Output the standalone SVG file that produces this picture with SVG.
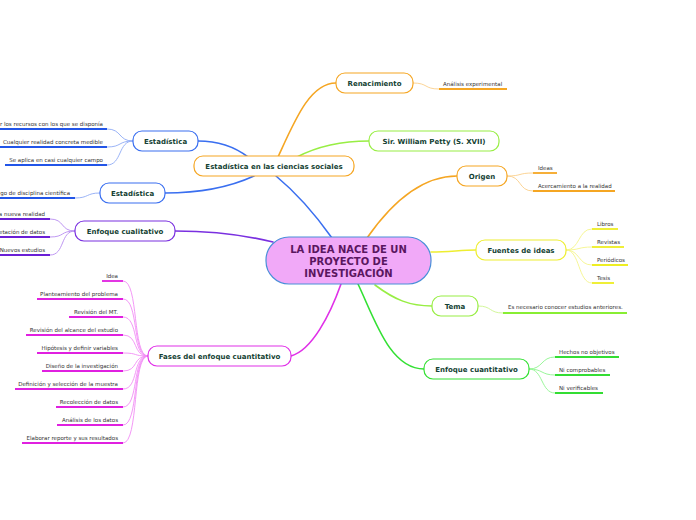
<svg xmlns="http://www.w3.org/2000/svg" width="696" height="520" viewBox="0 0 696 520">
<style>
.n{fill:#fff;stroke-width:1.2}
.nt{font-family:"DejaVu Sans",Verdana,sans-serif;font-weight:bold;font-size:7px;fill:#143f33;text-anchor:middle}
.lt{font-family:"DejaVu Sans",Verdana,sans-serif;font-size:5.5px;fill:#333}
.e{text-anchor:end}
.c{fill:none;stroke-width:1.6;stroke-linecap:round}
.lc{fill:none;stroke-width:0.9}
.ul{stroke-width:1.8}
</style>
<rect width="696" height="520" fill="#fff"/>
<g id="connectors">
<path class="c" stroke="#3a6ff0" d="M332 238 Q305 200 276 176"/>
<path class="c" stroke="#f5a623" d="M367 238 C390 205 420 176 457 176"/>
<path class="c" stroke="#eeee30" d="M431 252 C450 252 460 250 476 250"/>
<path class="c" stroke="#98ee44" d="M375 285 C395 300 410 306 432 306"/>
<path class="c" stroke="#33e033" d="M358 284 C375 320 390 369 424 369"/>
<path class="c" stroke="#e030e8" d="M341 284 C330 315 312 350 291 356"/>
<path class="c" stroke="#7a30e0" d="M273 242 C240 234 210 231 175 231"/>
<path class="c" stroke="#f5a623" d="M278 157 C295 120 310 83 336 83"/>
<path class="c" stroke="#98ee44" d="M297 157 C320 145 345 141 369 141"/>
<path class="c" stroke="#3a6ff0" d="M248 157 C235 147 220 141 198 141"/>
<path class="c" stroke="#3a6ff0" d="M254 176 C230 187 200 193 165 193"/>
<!-- leaf connectors -->
<g stroke="#8eaaf5" class="lc">
<path d="M133 141 C118 141 122 129 107 129"/>
<path d="M133 141 C118 141 122 147 107 147"/>
<path d="M133 141 C118 141 122 165 107 165"/>
<path d="M100 193 C86 193 89 198 75 198"/>
</g>
<g stroke="#b88cf0" class="lc">
<path d="M75 231 C60 231 65 219 50 219"/>
<path d="M75 231 C60 231 65 237 50 237"/>
<path d="M75 231 C60 231 65 255 50 255"/>
</g>
<g stroke="#f28cf5" class="lc">
<path d="M148 356 C132 356 139 281 123 281"/>
<path d="M148 356 C132 356 139 299 123 299"/>
<path d="M148 356 C132 356 139 317 123 317"/>
<path d="M148 356 C132 356 139 335 123 335"/>
<path d="M148 356 C132 356 139 353 123 353"/>
<path d="M148 356 C132 356 139 371 123 371"/>
<path d="M148 356 C132 356 139 389 123 389"/>
<path d="M148 356 C132 356 139 407 123 407"/>
<path d="M148 356 C132 356 139 425 123 425"/>
<path d="M148 356 C132 356 139 443 123 443"/>
</g>
<g stroke="#fbcf8a" class="lc">
<path d="M413 83 C428 83 424 89 439 89"/>
<path d="M507 176 C522 176 518 173 533 173"/>
<path d="M507 176 C522 176 518 191 533 191"/>
</g>
<g stroke="#f5f58a" class="lc">
<path d="M566 250 C580 250 578 229 592 229"/>
<path d="M566 250 C580 250 578 247 592 247"/>
<path d="M566 250 C580 250 578 265 592 265"/>
<path d="M566 250 C580 250 578 283 592 283"/>
</g>
<g stroke="#cdf58e" class="lc">
<path d="M478 306 C492 306 489 313 503 313"/>
</g>
<g stroke="#8ef58e" class="lc">
<path d="M529 369 C543 369 541 357 555 357"/>
<path d="M529 369 C543 369 541 375 555 375"/>
<path d="M529 369 C543 369 541 393 555 393"/>
</g>
</g>
<g id="central">
<rect x="266" y="237" width="165" height="47" rx="23" fill="#f1a9f8" stroke="#4a8fd8" stroke-width="1.2"/>
<text font-family="DejaVu Sans,Verdana,sans-serif" font-weight="bold" font-size="10" fill="#5a1660" text-anchor="middle"><tspan x="348.5" y="253">LA IDEA NACE DE UN</tspan><tspan x="348.5" y="265">PROYECTO DE</tspan><tspan x="348.5" y="277">INVESTIGACIÓN</tspan></text>
</g>
<g id="n-ciencias"><rect class="n" x="194" y="156" width="160" height="20" rx="9" stroke="#f5a623"/><text class="nt" x="274" y="168.5">Estadística en las ciencias sociales</text></g>
<g id="n-renacimiento"><rect class="n" x="336" y="73" width="77" height="20" rx="9" stroke="#f5a623"/><text class="nt" x="374.5" y="85.5">Renacimiento</text></g>
<g id="n-petty"><rect class="n" x="369" y="131" width="130" height="20" rx="9" stroke="#98ee44"/><text class="nt" x="434" y="143.5">Sir. William Petty (S. XVII)</text></g>
<g id="n-origen"><rect class="n" x="457" y="166" width="50" height="20" rx="9" stroke="#f5a623"/><text class="nt" x="482" y="178.5">Origen</text></g>
<g id="n-fuentes"><rect class="n" x="476" y="240" width="90" height="20" rx="9" stroke="#eeee30"/><text class="nt" x="521" y="252.5">Fuentes de ideas</text></g>
<g id="n-tema"><rect class="n" x="432" y="296" width="46" height="20" rx="9" stroke="#98ee44"/><text class="nt" x="455" y="308.5">Tema</text></g>
<g id="n-cuanti"><rect class="n" x="424" y="359" width="105" height="20" rx="9" stroke="#33e033"/><text class="nt" x="476.5" y="371.5">Enfoque cuantitativo</text></g>
<g id="n-fases"><rect class="n" x="148" y="346" width="143" height="20" rx="9" stroke="#e030e8"/><text class="nt" x="219.5" y="358.5">Fases del enfoque cuantitativo</text></g>
<g id="n-cuali"><rect class="n" x="75" y="221" width="100" height="20" rx="9" stroke="#7a30e0"/><text class="nt" x="125" y="233.5">Enfoque cualitativo</text></g>
<g id="n-estad1"><rect class="n" x="133" y="131" width="65" height="20" rx="9" stroke="#3a6ff0"/><text class="nt" x="165.5" y="143.5">Estadística</text></g>
<g id="n-estad2"><rect class="n" x="100" y="183" width="65" height="20" rx="9" stroke="#3a6ff0"/><text class="nt" x="132.5" y="195.5">Estadística</text></g>
<g id="leaves-estad1">
<line class="ul" x1="0" y1="129" x2="107" y2="129" stroke="#2255e8"/><text class="lt e" x="103" y="125.5">r los recursos con los que se disponía</text>
<line class="ul" x1="0" y1="147" x2="107" y2="147" stroke="#2255e8"/><text class="lt e" x="103" y="143.5">Cualquier realidad concreta medible</text>
<line class="ul" x1="5" y1="165" x2="107" y2="165" stroke="#2255e8"/><text class="lt e" x="103" y="161.5">Se aplica en casi cualquier campo</text>
</g>
<g id="leaves-estad2">
<line class="ul" x1="0" y1="198" x2="75" y2="198" stroke="#2255e8"/><text class="lt e" x="70" y="194.5">go de disciplina científica</text>
</g>
<g id="leaves-cuali">
<line class="ul" x1="0" y1="219" x2="50" y2="219" stroke="#6a1fd6"/><text class="lt e" x="45" y="215.5">a nueva realidad</text>
<line class="ul" x1="0" y1="237" x2="50" y2="237" stroke="#6a1fd6"/><text class="lt e" x="45" y="233.5">etación de datos</text>
<line class="ul" x1="0" y1="255" x2="50" y2="255" stroke="#6a1fd6"/><text class="lt e" x="45" y="251.5">Nuevos estudios</text>
</g>
<g id="leaves-fases" stroke="#e020e0">
<line class="ul" x1="102" y1="281" x2="123" y2="281"/><text class="lt e" stroke="none" x="118" y="277.5">Idea</text>
<line class="ul" x1="37" y1="299" x2="123" y2="299"/><text class="lt e" stroke="none" x="118" y="295.5">Planteamiento del problema</text>
<line class="ul" x1="69" y1="317" x2="123" y2="317"/><text class="lt e" stroke="none" x="118" y="313.5">Revisión del MT.</text>
<line class="ul" x1="26" y1="335" x2="123" y2="335"/><text class="lt e" stroke="none" x="118" y="331.5">Revisión del alcance del estudio</text>
<line class="ul" x1="37" y1="353" x2="123" y2="353"/><text class="lt e" stroke="none" x="118" y="349.5">Hipótesis y definir variables</text>
<line class="ul" x1="42" y1="371" x2="123" y2="371"/><text class="lt e" stroke="none" x="118" y="367.5">Diseño de la investigación</text>
<line class="ul" x1="15" y1="389" x2="123" y2="389"/><text class="lt e" stroke="none" x="118" y="385.5">Definición y selección de la muestra</text>
<line class="ul" x1="56" y1="407" x2="123" y2="407"/><text class="lt e" stroke="none" x="118" y="403.5">Recolección de datos</text>
<line class="ul" x1="57" y1="425" x2="123" y2="425"/><text class="lt e" stroke="none" x="118" y="421.5">Análisis de los datos</text>
<line class="ul" x1="22" y1="443" x2="123" y2="443"/><text class="lt e" stroke="none" x="118" y="439.5">Elaborar reporte y sus resultados</text>
</g>
<g id="leaves-renac">
<line class="ul" x1="439" y1="89" x2="507" y2="89" stroke="#f5a623"/><text class="lt" x="443" y="85.5">Análisis experimental</text>
</g>
<g id="leaves-origen">
<line class="ul" x1="533" y1="173" x2="557" y2="173" stroke="#f5a623"/><text class="lt" x="538" y="169.5">Ideas</text>
<line class="ul" x1="533" y1="191" x2="615" y2="191" stroke="#f5a623"/><text class="lt" x="538" y="187.5">Acercamiento a la realidad</text>
</g>
<g id="leaves-fuentes">
<line class="ul" x1="592" y1="229" x2="618" y2="229" stroke="#eeee22"/><text class="lt" x="597" y="225.5">Libros</text>
<line class="ul" x1="592" y1="247" x2="624" y2="247" stroke="#eeee22"/><text class="lt" x="597" y="243.5">Revistas</text>
<line class="ul" x1="592" y1="265" x2="628" y2="265" stroke="#eeee22"/><text class="lt" x="597" y="261.5">Periódicos</text>
<line class="ul" x1="592" y1="283" x2="614" y2="283" stroke="#eeee22"/><text class="lt" x="597" y="279.5">Tesis</text>
</g>
<g id="leaves-tema">
<line class="ul" x1="503" y1="313" x2="627" y2="313" stroke="#88ee33"/><text class="lt" x="508" y="309">Es necesario conocer estudios anteriores.</text>
</g>
<g id="leaves-cuanti">
<line class="ul" x1="555" y1="357" x2="619" y2="357" stroke="#33dd33"/><text class="lt" x="559" y="353.5">Hechos no objetivos</text>
<line class="ul" x1="555" y1="375" x2="610" y2="375" stroke="#33dd33"/><text class="lt" x="559" y="371.5">Ni comprobables</text>
<line class="ul" x1="555" y1="393" x2="603" y2="393" stroke="#33dd33"/><text class="lt" x="559" y="389.5">Ni verificables</text>
</g>
</svg>
